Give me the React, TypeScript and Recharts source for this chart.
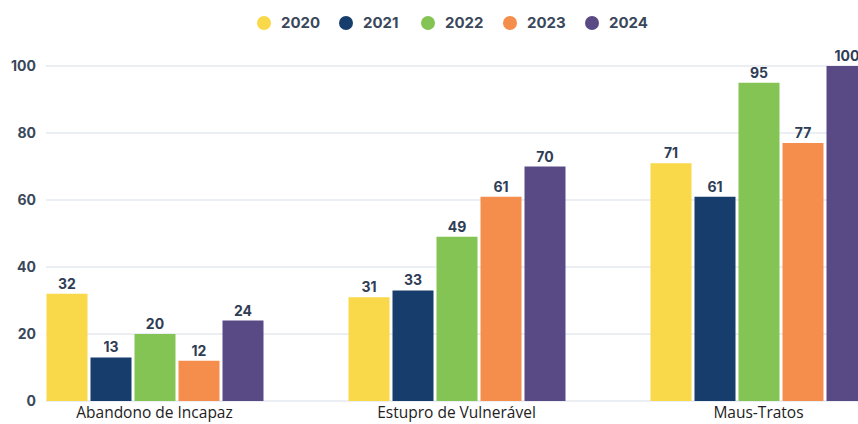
import { BarChart, Bar, XAxis, YAxis, CartesianGrid, LabelList } from "recharts";

const categories = ["Abandono de Incapaz", "Estupro de Vulnerável", "Maus-Tratos"];
const years = ["2020", "2021", "2022", "2023", "2024"];
const v2020 = [32, 31, 71];
const v2021 = [13, 33, 61];
const v2022 = [20, 49, 95];
const v2023 = [12, 61, 77];
const v2024 = [24, 70, 100];
const yTicks = [0, 20, 40, 60, 80, 100];

const COLORS = ["#F9D84A", "#173D6D", "#84C454", "#F58D4C", "#594A86"];
const series = [v2020, v2021, v2022, v2023, v2024];

const data = categories.map((name, i) => {
  const row: Record<string, string | number> = { name };
  years.forEach((y, j) => {
    row[y] = series[j][i];
  });
  return row;
});

const FONT = "Inter, 'Open Sans', sans-serif";

export default function App() {
  return (
    <div
      style={{
        position: "absolute",
        left: 0,
        top: 0,
        width: 858,
        height: 424,
        overflow: "hidden",
        background: "#fff",
        fontFamily: FONT,
      }}
    >
      {/* legend drawn as plain html so it doesn't eat plot space */}
      <div style={{ position: "absolute", top: 13, left: 257, display: "flex" }}>
        {years.map((y, i) => (
          <div key={y} style={{ display: "flex", alignItems: "center", gap: 10, width: 82 }}>
            <span
              style={{
                width: 14,
                height: 14,
                borderRadius: "50%",
                background: COLORS[i],
                display: "inline-block",
              }}
            />
            <span style={{ fontSize: 15, fontWeight: 700, color: "#3a475a" }}>{y}</span>
          </div>
        ))}
      </div>
      <BarChart
        width={858}
        height={424}
        data={data}
        margin={{ top: 66, right: 0, left: 0, bottom: 0 }}
        barSize={41}
        barGap={3}
      >
        <CartesianGrid vertical={false} stroke="#e4e8ee" strokeWidth={1.5} />
        <XAxis
          dataKey="name"
          height={23}
          axisLine={false}
          tickLine={false}
          tickMargin={0}
          padding={{ left: -42.5, right: -51.5 }}
          tick={{ fill: "#222", fontSize: 15.5, fontFamily: "'Open Sans', sans-serif" }}
          interval={0}
        />
        <YAxis
          width={46}
          domain={[0, 100]}
          ticks={yTicks}
          axisLine={false}
          tickLine={false}
          tickMargin={4}
          tick={{ fill: "#3a475a", fontSize: 14, fontWeight: 700, fontFamily: FONT }}
        />
        {years.map((y, i) => (
          <Bar key={y} dataKey={y} fill={COLORS[i]} isAnimationActive={false}>
            <LabelList
              dataKey={y}
              position="top"
              offset={5}
              style={{ fill: "#2f3d55", fontSize: 14, fontWeight: 700, fontFamily: FONT }}
            />
          </Bar>
        ))}
      </BarChart>
    </div>
  );
}
